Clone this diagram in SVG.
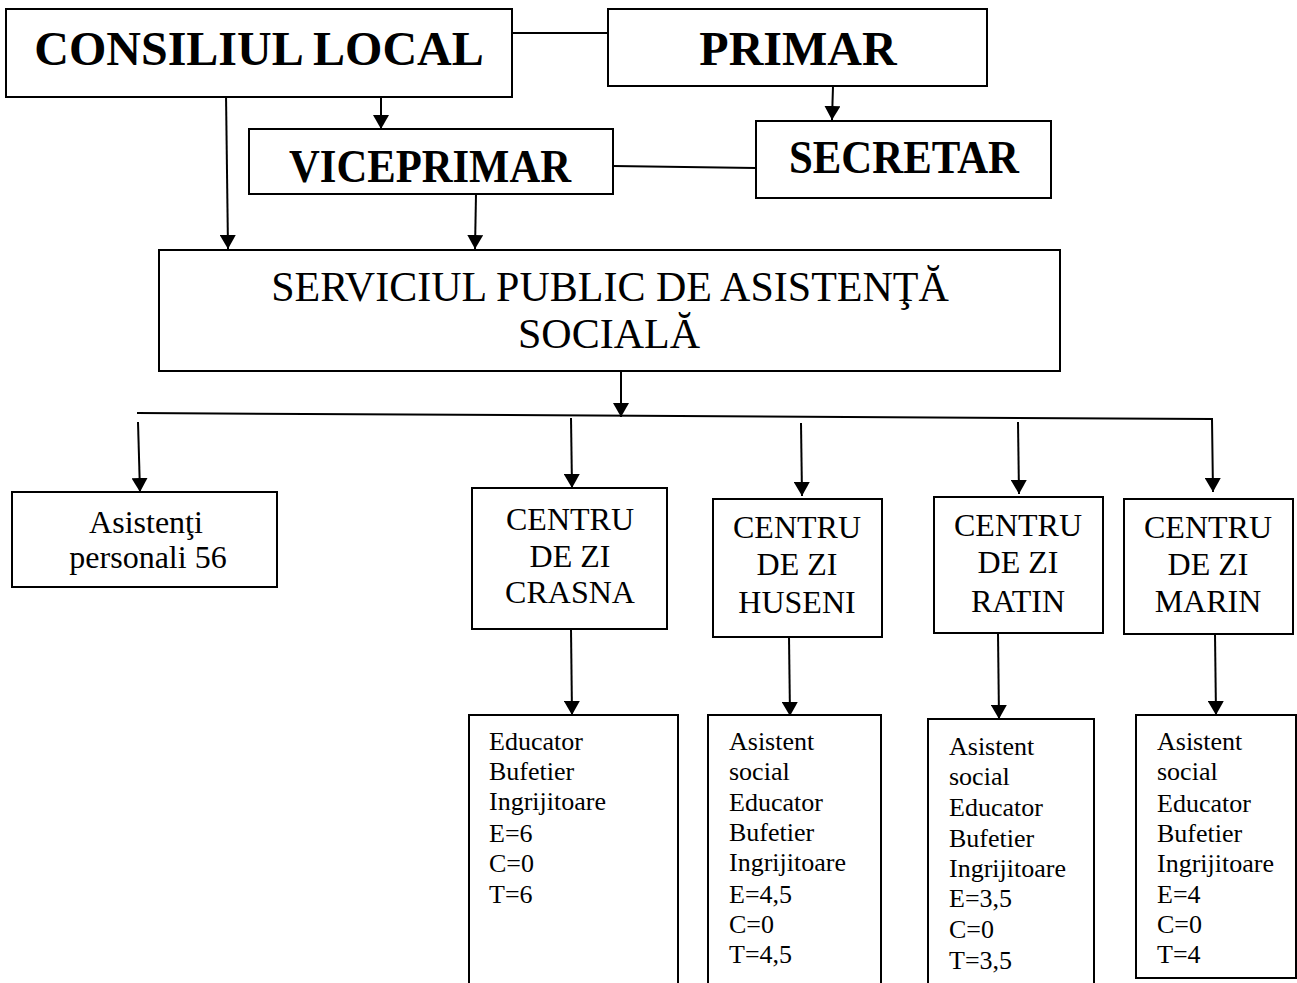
<svg xmlns="http://www.w3.org/2000/svg" width="1297" height="983" viewBox="0 0 1297 983">
<style>
.box{fill:#fff;stroke:#000;stroke-width:2}
.open{fill:none;stroke:#000;stroke-width:2}
text{font-family:'Liberation Serif','Times New Roman',Tinos,'DejaVu Serif',serif;fill:#000}
.hb{font-weight:bold;font-size:48px;text-anchor:middle}
.t42{font-size:42px;text-anchor:middle}
.t32{font-size:32px;text-anchor:middle}
.t26{font-size:26px}
.ln{fill:none;stroke:#000;stroke-width:2}
.ar{fill:none;stroke:#000;stroke-width:2;marker-end:url(#arr)}
</style>
<defs>
<marker id="arr" markerUnits="userSpaceOnUse" viewBox="0 0 14 16" refX="14" refY="8" markerWidth="14" markerHeight="16" orient="auto">
<path d="M0,0 L14,8 L0,16 z" fill="#000"/>
</marker>
</defs>
<rect width="1297" height="983" fill="#fff"/>
<g id="connectors">
<line class="ln" x1="512" y1="33" x2="608" y2="33"/>
<line class="ln" x1="613" y1="166" x2="756" y2="168"/>
<line class="ar" x1="381" y1="97" x2="381" y2="129"/>
<line class="ar" x1="226" y1="94" x2="228" y2="249"/>
<line class="ar" x1="476" y1="194" x2="475" y2="249"/>
<line class="ar" x1="833" y1="86" x2="832" y2="120"/>
<line class="ar" x1="621" y1="371" x2="621" y2="417"/>
<polyline class="ar" points="137,413 1212,419 1213,492"/>
<line class="ar" x1="138" y1="422" x2="140" y2="492"/>
<line class="ar" x1="571" y1="418" x2="572" y2="488"/>
<line class="ar" x1="801" y1="423" x2="802" y2="496"/>
<line class="ar" x1="1018" y1="422" x2="1019" y2="494"/>
<line class="ar" x1="571" y1="629" x2="572" y2="715"/>
<line class="ar" x1="789" y1="637" x2="790" y2="716"/>
<line class="ar" x1="998" y1="633" x2="999" y2="719"/>
<line class="ar" x1="1215" y1="634" x2="1216" y2="715"/>
</g>
<g id="consiliul-local">
<rect class="box" x="6" y="9" width="506" height="88"/>
<text class="hb" x="259" y="65">CONSILIUL LOCAL</text>
</g>
<g id="primar">
<rect class="box" x="608" y="9" width="379" height="77"/>
<text class="hb" x="798" y="65">PRIMAR</text>
</g>
<g id="viceprimar">
<rect class="box" x="249" y="129" width="364" height="65"/>
<text class="hb" x="430" y="182" style="font-size:46px" textLength="282" lengthAdjust="spacingAndGlyphs">VICEPRIMAR</text>
</g>
<g id="secretar">
<rect class="box" x="756" y="121" width="295" height="77"/>
<text class="hb" x="904" y="173" style="font-size:46px" textLength="230" lengthAdjust="spacingAndGlyphs">SECRETAR</text>
</g>
<g id="serviciul">
<rect class="box" x="159" y="250" width="901" height="121"/>
<text class="t42" x="610" y="301">SERVICIUL PUBLIC DE ASISTENŢĂ</text>
<text class="t42" x="609" y="348">SOCIALĂ</text>
</g>
<g id="asistenti">
<rect class="box" x="12" y="492" width="265" height="95"/>
<text class="t32" x="146" y="533">Asistenţi</text>
<text class="t32" x="148" y="568">personali 56</text>
</g>
<g id="crasna">
<rect class="box" x="472" y="488" width="195" height="141"/>
<text class="t32" x="570" y="530">CENTRU</text>
<text class="t32" x="570" y="567">DE ZI</text>
<text class="t32" x="570" y="603">CRASNA</text>
</g>
<g id="huseni">
<rect class="box" x="713" y="499" width="169" height="138"/>
<text class="t32" x="797" y="538">CENTRU</text>
<text class="t32" x="797" y="575">DE ZI</text>
<text class="t32" x="797" y="613">HUSENI</text>
</g>
<g id="ratin">
<rect class="box" x="934" y="497" width="169" height="136"/>
<text class="t32" x="1018" y="536">CENTRU</text>
<text class="t32" x="1018" y="573">DE ZI</text>
<text class="t32" x="1018" y="612">RATIN</text>
</g>
<g id="marin">
<rect class="box" x="1124" y="499" width="169" height="135"/>
<text class="t32" x="1208" y="538">CENTRU</text>
<text class="t32" x="1208" y="575">DE ZI</text>
<text class="t32" x="1208" y="612">MARIN</text>
</g>
<g id="crasna-staff">
<path class="open" d="M469,990 V715 H678 V990"/>
<text class="t26" x="489" y="750">Educator</text>
<text class="t26" x="489" y="780">Bufetier</text>
<text class="t26" x="489" y="810">Ingrijitoare</text>
<text class="t26" x="489" y="842">E=6</text>
<text class="t26" x="489" y="872">C=0</text>
<text class="t26" x="489" y="903">T=6</text>
</g>
<g id="huseni-staff">
<path class="open" d="M708,990 V715 H881 V990"/>
<text class="t26" x="729" y="750">Asistent</text>
<text class="t26" x="729" y="780">social</text>
<text class="t26" x="729" y="811">Educator</text>
<text class="t26" x="729" y="841">Bufetier</text>
<text class="t26" x="729" y="871">Ingrijitoare</text>
<text class="t26" x="729" y="903">E=4,5</text>
<text class="t26" x="729" y="933">C=0</text>
<text class="t26" x="729" y="963">T=4,5</text>
</g>
<g id="ratin-staff">
<path class="open" d="M928,990 V719 H1094 V990"/>
<text class="t26" x="949" y="755">Asistent</text>
<text class="t26" x="949" y="785">social</text>
<text class="t26" x="949" y="816">Educator</text>
<text class="t26" x="949" y="847">Bufetier</text>
<text class="t26" x="949" y="877">Ingrijitoare</text>
<text class="t26" x="949" y="907">E=3,5</text>
<text class="t26" x="949" y="938">C=0</text>
<text class="t26" x="949" y="969">T=3,5</text>
</g>
<g id="marin-staff">
<rect class="box" x="1136" y="715" width="160" height="263"/>
<text class="t26" x="1157" y="750">Asistent</text>
<text class="t26" x="1157" y="780">social</text>
<text class="t26" x="1157" y="812">Educator</text>
<text class="t26" x="1157" y="842">Bufetier</text>
<text class="t26" x="1157" y="872">Ingrijitoare</text>
<text class="t26" x="1157" y="903">E=4</text>
<text class="t26" x="1157" y="933">C=0</text>
<text class="t26" x="1157" y="963">T=4</text>
</g>
</svg>
